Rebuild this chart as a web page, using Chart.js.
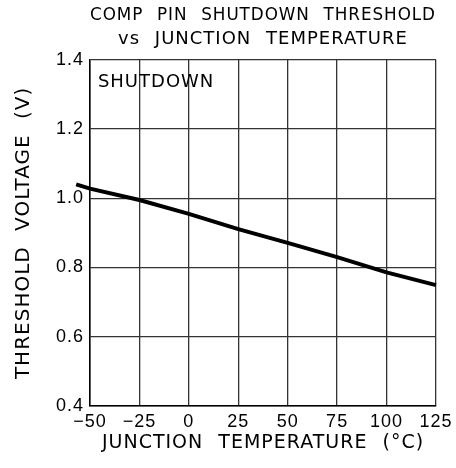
<!DOCTYPE html>
<html>
<head>
<meta charset="utf-8">
<script src="https://cdn.jsdelivr.net/npm/chart.js@4.4.1/dist/chart.umd.min.js"></script>
<style>
  html, body { margin: 0; padding: 0; background: #fff; }
  #wrap { width: 456px; height: 468px; }
</style>
</head>
<body>
<div id="wrap"><canvas id="chart"></canvas></div>
<script>
const titleLines = ['COMP PIN SHUTDOWN THRESHOLD', 'vs JUNCTION TEMPERATURE'];
const xAxisTitle = 'JUNCTION TEMPERATURE (°C)';
const yAxisTitle = 'THRESHOLD VOLTAGE (V)';
const noteText = 'SHUTDOWN';
const noteAt = [-46, 1.335];

// (the drawn line runs a little past the left axis)
const tempC = [-57, -50, -25, 0, 25, 50, 75, 100, 125];
const thresholdV = [1.04, 1.028, 0.995, 0.955, 0.911, 0.871, 0.83, 0.786, 0.749];

const xTicks = [-50, -25, 0, 25, 50, 75, 100, 125];
const yTicks = [0.4, 0.6, 0.8, 1.0, 1.2, 1.4];

const FONT = 'DejaVu Sans';
const TICK_FONT = 'Liberation Sans Narrow, Liberation Sans';

const spacing = {
  id: 'spacing',
  beforeDraw(chart) {
    chart.ctx.letterSpacing = '1px';
    chart.ctx.wordSpacing = '8px';
  }
};

const note = {
  id: 'note',
  afterDatasetsDraw(chart) {
    const { ctx, scales } = chart;
    ctx.save();
    ctx.letterSpacing = '1px';
    ctx.font = `18px ${FONT}`;
    ctx.fillStyle = '#000';
    ctx.textBaseline = 'middle';
    ctx.textAlign = 'left';
    ctx.fillText(noteText, scales.x.getPixelForValue(noteAt[0]), scales.y.getPixelForValue(noteAt[1]));
    ctx.restore();
  }
};

new Chart(document.getElementById('chart'), {
  type: 'line',
  data: {
    datasets: [{
      data: tempC.map((t, i) => ({ x: t, y: thresholdV[i] })),
      borderColor: '#000',
      borderWidth: 4,
      pointRadius: 0,
      tension: 0,
      clip: false
    }]
  },
  options: {
    responsive: true,
    maintainAspectRatio: false,
    animation: false,
    layout: { padding: { left: 0, right: 17, top: 0, bottom: 0 } },
    plugins: {
      legend: { display: false },
      tooltip: { enabled: false },
      title: {
        display: true,
        fullSize: false,
        text: titleLines,
        color: '#000',
        font: { family: FONT, size: 18, weight: 'normal', lineHeight: 1.3 },
        padding: { top: 4, bottom: 9 },
        align: 'center'
      }
    },
    scales: {
      x: {
        type: 'linear',
        min: -50, max: 125,
        afterBuildTicks: s => { s.ticks = xTicks.map(v => ({ value: v })); },
        afterFit: s => { s.height = 62; },
        grid: { color: '#333', lineWidth: 1.3, drawTicks: false },
        border: { color: '#000', width: 1.5 },
        ticks: {
          color: '#000', padding: 5,
          font: { family: TICK_FONT, size: 18 },
          callback: v => String(v).replace('-', '\u2212')
        },
        title: {
          display: true, text: xAxisTitle, color: '#000',
          font: { family: FONT, size: 19 },
          padding: { top: 0, bottom: 14 }
        }
      },
      y: {
        min: 0.4, max: 1.4,
        afterBuildTicks: s => { s.ticks = yTicks.map(v => ({ value: v })); },
        afterFit: s => { s.width = 90; },
        grid: { color: '#333', lineWidth: 1.3, drawTicks: false },
        border: { color: '#000', width: 1.5 },
        ticks: {
          color: '#000', padding: 6,
          font: { family: TICK_FONT, size: 18 },
          callback: v => v.toFixed(1)
        },
        title: {
          display: true, text: yAxisTitle, color: '#000',
          font: { family: FONT, size: 20 },
          padding: { top: 12, bottom: 10 }
        }
      }
    }
  },
  plugins: [spacing, note]
});
</script>
</body>
</html>
